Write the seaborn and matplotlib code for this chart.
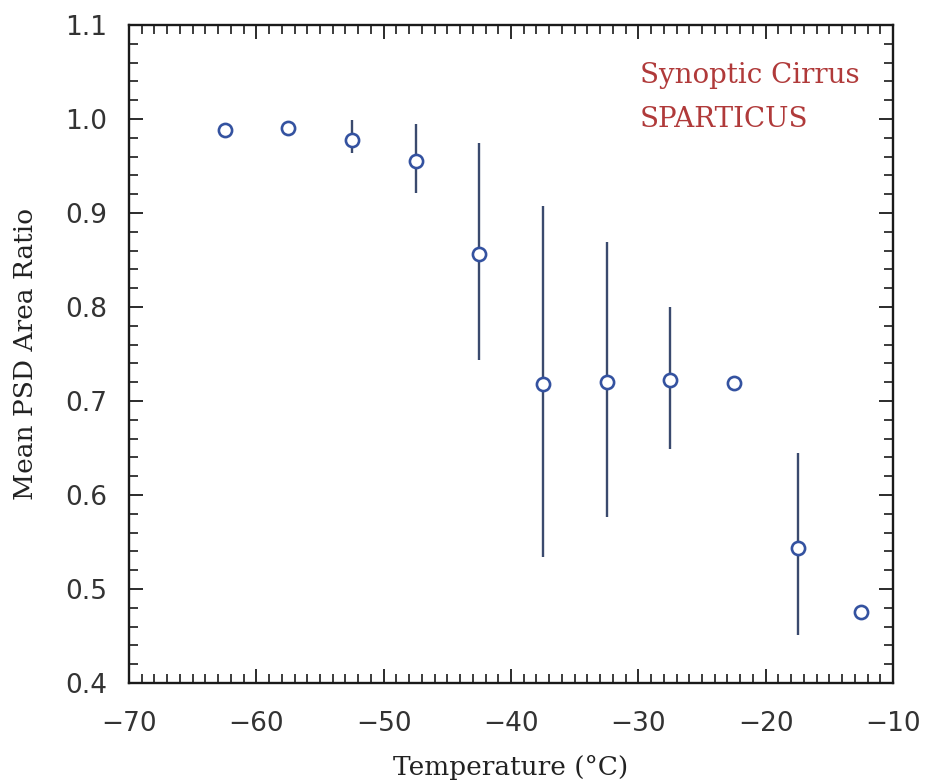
import numpy as np
import pandas as pd
import matplotlib
matplotlib.use("Agg")
import matplotlib.pyplot as plt
import seaborn as sns
from matplotlib.ticker import MultipleLocator

# Data
temperature = [-62.5, -57.5, -52.5, -47.5, -42.5, -37.5, -32.5, -27.5, -22.5, -17.5, -12.5]
area_ratio = [0.988, 0.990, 0.978, 0.955, 0.856, 0.718, 0.720, 0.722, 0.719, 0.544, 0.476]
err_low = [0.988, 0.984, 0.964, 0.921, 0.744, 0.534, 0.577, 0.649, 0.719, 0.451, 0.476]
err_high = [0.988, 0.996, 0.999, 0.995, 0.974, 0.907, 0.869, 0.800, 0.719, 0.645, 0.476]
labels = ["Synoptic Cirrus", "SPARTICUS"]

df = pd.DataFrame({"T": temperature, "R": area_ratio, "lo": err_low, "hi": err_high})

sns.set_theme(style="ticks")
plt.rcParams["font.family"] = ["DejaVu Sans"]
plt.rcParams["axes.unicode_minus"] = True

fig = plt.figure(figsize=(9.25, 7.82), dpi=100)
ax = fig.add_axes([129 / 925, 99 / 782, (893 - 129) / 925, (683 - 25) / 782])

ax.vlines(df["T"], df["lo"], df["hi"], color="#3a4a6e", linewidth=1.7, zorder=2)
sns.scatterplot(data=df, x="T", y="R", ax=ax, marker="o", s=90,
                facecolor="white", edgecolor="#3452a0", linewidth=1.9, zorder=3, legend=False)

ax.set_xlim(-70, -10)
ax.set_ylim(0.4, 1.1)
ax.xaxis.set_major_locator(MultipleLocator(10))
ax.xaxis.set_minor_locator(MultipleLocator(1))
ax.yaxis.set_major_locator(MultipleLocator(0.1))
ax.yaxis.set_minor_locator(MultipleLocator(0.02))
ax.yaxis.set_major_formatter(matplotlib.ticker.FormatStrFormatter("%.1f"))

ax.tick_params(which="both", direction="in", top=True, right=True, color="#1a1a1a")
ax.tick_params(which="major", length=10, width=1.3, labelsize=19, labelcolor="#333333")
ax.tick_params(which="minor", length=6.5, width=1.2)
ax.tick_params(axis="x", which="major", pad=20)
ax.tick_params(axis="y", which="major", pad=16)
for sp in ax.spines.values():
    sp.set_linewidth(1.7)
    sp.set_color("#1a1a1a")

ax.set_xlabel("Temperature (°C)", family="DejaVu Serif", fontsize=19, color="#222222", labelpad=13)
ax.set_ylabel("Mean PSD Area Ratio", family="DejaVu Serif", fontsize=19, color="#222222", labelpad=19)

ax.text(0.669, 0.924, labels[0], transform=ax.transAxes, family="DejaVu Serif",
        fontsize=20, color="#b03a3a", va="center", ha="left")
ax.text(0.669, 0.856, labels[1], transform=ax.transAxes, family="DejaVu Serif",
        fontsize=20, color="#b03a3a", va="center", ha="left")

fig.savefig("out.png", dpi=100, facecolor="white")
